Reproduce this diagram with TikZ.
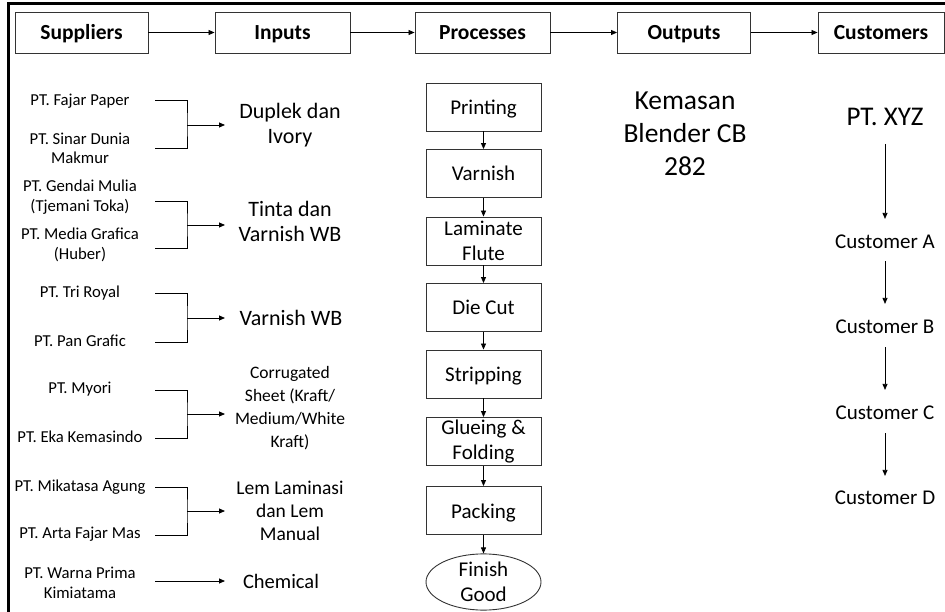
\documentclass[tikz,border=0pt]{standalone}
\usepackage{fontspec}
\setmainfont{Carlito}
\usetikzlibrary{arrows.meta,shapes.geometric}
\begin{document}
\begin{tikzpicture}[x=1pt,y=-1pt,
 hdr/.style={draw=black!80,line width=0.9pt,minimum width=133pt,minimum height=41pt,inner sep=0pt,text height=17pt,text depth=2pt,font=\fontsize{21.5}{24}\selectfont\bfseries},
 sup/.style={align=center,font=\fontsize{16.7}{19.5}\selectfont,inner sep=0pt},
 inp/.style={align=center,font=\fontsize{22}{25}\selectfont,inner sep=0pt},
 proc/.style={draw=black!80,line width=0.9pt,minimum width=115pt,minimum height=48pt,align=center,font=\fontsize{21}{25}\selectfont,inner sep=0pt},
 one/.style={text height=17pt,text depth=2pt},
 cust/.style={font=\fontsize{21}{24}\selectfont,inner sep=0pt},
 arr/.style={-{Triangle[length=6pt,width=5pt]},line width=0.8pt},
 br/.style={line width=0.9pt}]
\useasboundingbox (0,0) rectangle (945,612);
\draw[line width=3pt] (8,612) -- (8,4) -- (945,4);

% headers
\node[hdr] (hs) at (81.5,32.5) {Suppliers};
\node[hdr,minimum width=135pt] (hi) at (282.5,32.5) {Inputs};
\node[hdr,minimum width=135pt] (hp) at (482.5,32.5) {Processes};
\node[hdr] (ho) at (684,32.5) {Outputs};
\node[hdr,minimum width=126pt] (hc) at (881,32.5) {Customers};
\draw[arr] (hs) -- (hi);
\draw[arr] (hi) -- (hp);
\draw[arr] (hp) -- (ho);
\draw[arr] (ho) -- (hc);

% suppliers
\node[sup] (s1) at (80,101) {PT. Fajar Paper};
\node[sup] (s2) at (80,148.5) {PT. Sinar Dunia\\Makmur};
\node[sup] (s3) at (80,197) {PT. Gendai Mulia\\(Tjemani Toka)};
\node[sup] (s4) at (80,245) {PT. Media Grafica\\(Huber)};
\node[sup] (s5) at (80,293) {PT. Tri Royal};
\node[sup] (s6) at (80,341) {PT. Pan Grafic};
\node[sup] (s7) at (80,389) {PT. Myori};
\node[sup] (s8) at (80,437) {PT. Eka Kemasindo};
\node[sup] (s9) at (80,487) {PT. Mikatasa Agung};
\node[sup] (s10) at (80,534) {PT. Arta Fajar Mas};
\node[sup] (s11) at (80,583) {PT. Warna Prima\\Kimiatama};

% inputs
\node[inp] (i1) at (290,125.5) {Duplek dan\\Ivory};
\node[inp] (i2) at (290,221.5) {Tinta dan\\Varnish WB};
\node[inp] (i3) at (291,318) {Varnish WB};
\node[inp,font=\fontsize{17.5}{23}\selectfont] (i4) at (290,408.5) {Corrugated\\Sheet (Kraft/\\Medium/White\\Kraft)};
\node[inp,font=\fontsize{19.5}{23}\selectfont] (i5) at (290,511) {Lem Laminasi\\dan Lem\\Manual};
\node[inp,font=\fontsize{20.5}{24}\selectfont] (i6) at (281,581) {Chemical};

% brackets
\foreach \t/\b/\m/\n in {100/148/125/1, 201/248/225/2, 293/342/318/3, 390/438/414/4, 487/535/511/5}{
  \coordinate (bt\n) at (155,\t);
  \coordinate (bb\n) at (155,\b);
  \coordinate (bj\n) at (187,\m);
  \coordinate (be\n) at (225,\m);
  \draw[br] (bt\n) -| (bj\n) |- (bb\n);
  \draw[arr] (bj\n) -- (be\n);
}
\coordinate (c6a) at (155,581);
\coordinate (c6b) at (225,581);
\draw[arr] (c6a) -- (c6b);

% processes
\node[proc,one] (p1) at (483.5,107) {Printing};
\node[proc,one] (p2) at (483.5,173.5) {Varnish};
\node[proc] (p3) at (483.5,241) {Laminate\\Flute};
\node[proc,one] (p4) at (483.5,307.5) {Die Cut};
\node[proc,one] (p5) at (483.5,374) {Stripping};
\node[proc] (p6) at (483.5,441.5) {Glueing \&\\Folding};
\node[proc,one] (p7) at (483.5,510.5) {Packing};
\node[proc,ellipse] (p8) at (483.5,582) {Finish\\Good};
\foreach \a/\b in {p1/p2,p2/p3,p3/p4,p4/p5,p5/p6,p6/p7,p7/p8}{\draw[arr] (\a) -- (\b);}

% outputs
\node[inp,font=\fontsize{27.5}{33}\selectfont] (o1) at (685,134) {Kemasan\\Blender CB\\282};

% customers
\node[cust,font=\fontsize{27}{30}\selectfont] (xyz) at (885,117) {PT. XYZ};
\node[cust] (cA) at (885,242) {Customer A};
\node[cust] (cB) at (885,327) {Customer B};
\node[cust] (cC) at (885,413) {Customer C};
\node[cust] (cD) at (885,498) {Customer D};
\draw[arr,shorten <=18pt,shorten >=16pt] (xyz) -- (cA);
\draw[arr,shorten <=12pt,shorten >=16pt] (cA) -- (cB);
\draw[arr,shorten <=13pt,shorten >=16pt] (cB) -- (cC);
\draw[arr,shorten <=13pt,shorten >=15pt] (cC) -- (cD);
\end{tikzpicture}
\end{document}
